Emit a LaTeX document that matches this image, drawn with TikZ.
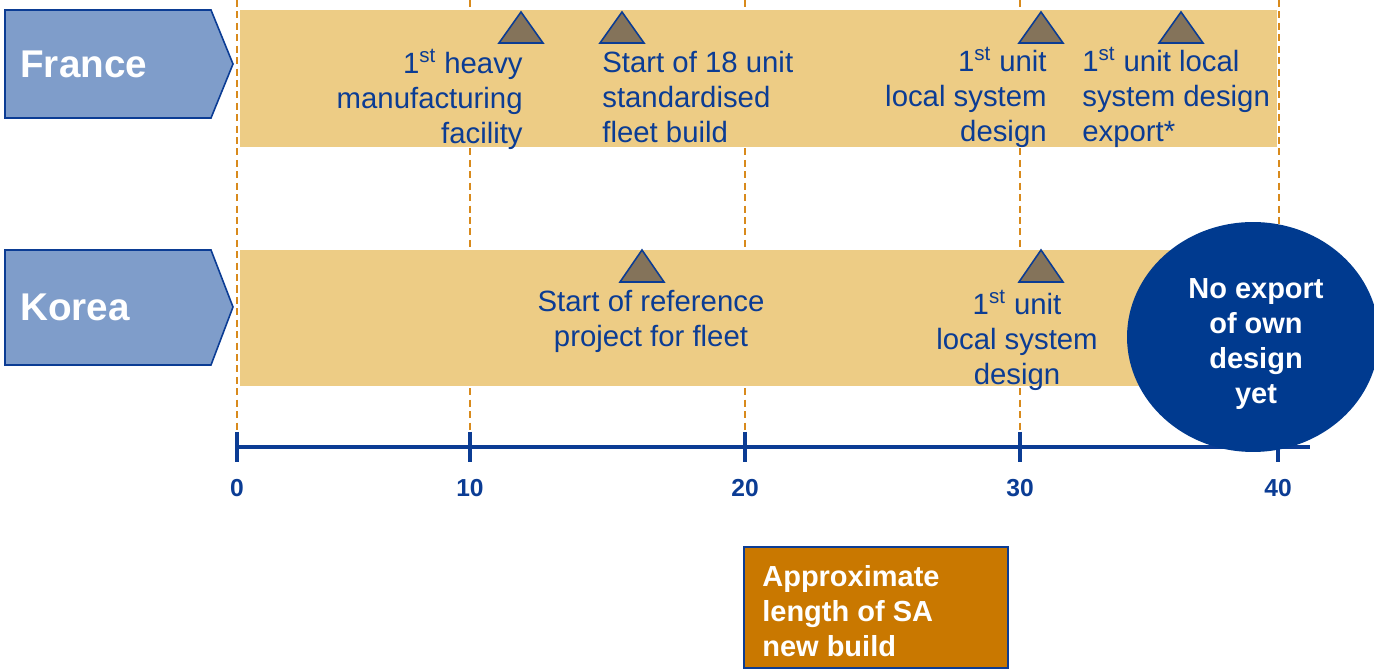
\documentclass[tikz,border=0pt]{standalone}
\usepackage{fontspec}
\setmainfont{Liberation Sans}
\usetikzlibrary{shapes.geometric}
\definecolor{navy}{HTML}{0B3C94}
\definecolor{bandfill}{HTML}{EDCC85}
\definecolor{tagfill}{HTML}{7F9DCA}
\definecolor{markerfill}{HTML}{84735A}
\definecolor{lineorange}{HTML}{D88A1C}
\definecolor{ovalfill}{HTML}{003A8F}
\definecolor{boxfill}{HTML}{C97800}
\begin{document}
\begin{tikzpicture}[x=0.02cm, y=-0.02cm,
                    band/.style={fill=bandfill, draw=none},
                    tag/.style={fill=tagfill, draw=navy, line width=0.9pt},
                    tagtext/.style={text=white, font=\fontsize{22}{26}\selectfont\bfseries, inner sep=0, anchor=west},
                    milestone/.style={text=navy, font=\fontsize{16.7}{19.9}\selectfont, inner sep=0},
                    marker/.style={fill=markerfill, draw=navy, line width=0.9pt},
                    yearline/.style={draw=lineorange, line width=1.1pt, dash pattern=on 4pt off 2.5pt},
                    timeaxis/.style={draw=navy, line width=1.8pt},
                    ticklabel/.style={text=navy, font=\fontsize{14}{16}\selectfont\bfseries, inner sep=0},
                    whitebold/.style={text=white, font=\fontsize{16.5}{19.9}\selectfont\bfseries}]
    \useasboundingbox (0,0) rectangle (1374,671);
    \foreach \x in {237,470,745,1020,1279}
        \draw[yearline] (\x,0) -- (\x,432);
    \fill[band] (240,10) rectangle (1277,147);
    \fill[band] (240,250) rectangle (1277,386);
    \draw[tag] (5,10) -- (211,10) -- (233,64) -- (211,118) -- (5,118) -- cycle;
    \draw[tag] (5,250) -- (211,250) -- (233,307) -- (211,365) -- (5,365) -- cycle;
    \node[tagtext] (france) at (20,64) {France};
    \node[tagtext] (korea) at (20,307) {Korea};
    \foreach \x in {521,622,1041,1181}
        \draw[marker] (\x-22,43) -- (\x,12) -- (\x+22,43) -- cycle;
    \foreach \x in {642,1041}
        \draw[marker] (\x-22,282) -- (\x,250) -- (\x+22,282) -- cycle;
    \node[milestone, anchor=north east, align=right] (heavy) at (523,49)
        {1\textsuperscript{st} heavy\\manufacturing\\facility};
    \node[milestone, anchor=north west, align=left] (fleetbuild) at (602,51)
        {Start of 18 unit\\standardised\\fleet build};
    \node[milestone, anchor=north east, align=right] (frunit) at (1047,47)
        {1\textsuperscript{st} unit\\local system\\design};
    \node[milestone, anchor=north west, align=left] (frexport) at (1082,47)
        {1\textsuperscript{st} unit local\\system design\\export*};
    \node[milestone, anchor=north, align=center] (reference) at (651,290)
        {Start of reference\\project for fleet};
    \node[milestone, anchor=north, align=center] (krunit) at (1017,290)
        {1\textsuperscript{st} unit\\local system\\design};
    \draw[timeaxis] (237,447) -- (1310,447);
    \foreach \x/\yr in {237/0,470/10,745/20,1020/30,1278/40} {
        \draw[timeaxis] (\x,432) -- (\x,462);
        \node[ticklabel] (yr\yr) at (\x,488) {\yr};
    }
    \node[ellipse, fill=ovalfill, minimum width=5.04cm, minimum height=4.6cm, inner sep=0] (noexport) at (1253,337) {};
    \node[whitebold, align=center, inner sep=0] (noexporttext) at (1256,344) {No export\\of own\\design\\yet};
    \node[fill=boxfill, draw=navy, line width=0.9pt, anchor=north west, minimum width=5.28cm, minimum height=2.42cm] (sabuild) at (743,546) {};
    \node[whitebold, align=left, inner sep=0, anchor=west] (sabuildtext) at (762,611) {Approximate\\length of SA\\new build};
\end{tikzpicture}
\end{document}
